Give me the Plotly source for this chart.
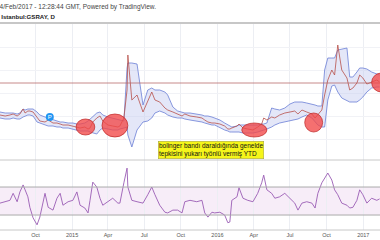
import plotly.graph_objects as go

dates = [
    "2014-07-04", "2014-07-17", "2014-07-29", "2014-08-06", "2014-08-16", "2014-08-23", "2014-08-31", "2014-09-05", "2014-09-12", "2014-09-17",
    "2014-09-25", "2014-10-05", "2014-10-12", "2014-10-25", "2014-11-02", "2014-11-14", "2014-11-24", "2014-12-02", "2014-12-09", "2014-12-22",
    "2015-01-03", "2015-01-13", "2015-01-21", "2015-02-02", "2015-02-10", "2015-02-15", "2015-02-22", "2015-03-04", "2015-03-12", "2015-03-19",
    "2015-04-01", "2015-04-13", "2015-04-26", "2015-05-01", "2015-05-11", "2015-05-19", "2015-05-21", "2015-05-31", "2015-06-13", "2015-06-28",
    "2015-07-10", "2015-07-20", "2015-07-28", "2015-08-09", "2015-08-22", "2015-08-29", "2015-09-11", "2015-09-23", "2015-10-04", "2015-10-11",
    "2015-10-24", "2015-11-10", "2015-11-23", "2015-11-30", "2015-12-08", "2015-12-18", "2015-12-25", "2016-01-07", "2016-01-19", "2016-01-27",
    "2016-02-01", "2016-02-06", "2016-02-19", "2016-02-24", "2016-03-05", "2016-03-17", "2016-03-30", "2016-04-11", "2016-04-21", "2016-04-26",
    "2016-05-04", "2016-05-16", "2016-05-24", "2016-06-05", "2016-06-18", "2016-07-01", "2016-07-13", "2016-07-21", "2016-07-31", "2016-08-12",
    "2016-08-25", "2016-09-02", "2016-09-09", "2016-09-19", "2016-09-26", "2016-10-04", "2016-10-14", "2016-10-21", "2016-10-29", "2016-11-08",
    "2016-11-21", "2016-11-28", "2016-12-06", "2016-12-16", "2016-12-23", "2016-12-31", "2017-01-10", "2017-01-22", "2017-02-04", "2017-02-11",
]

bb_upper = [
    1.76, 1.74, 1.74, 1.74, 1.72, 1.74, 1.82, 1.80, 1.82, 1.82,
    1.82, 1.76, 1.70, 1.66, 1.64, 1.62, 1.58, 1.56, 1.56, 1.54,
    1.54, 1.52, 1.52, 1.54, 1.58, 1.62, 1.68, 1.74, 1.76, 1.70,
    1.66, 1.64, 1.62, 1.60, 1.58, 2.64, 2.74, 2.74, 2.72, 1.90,
    2.20, 2.24, 2.20, 2.20, 2.16, 2.10, 1.86, 1.78, 1.76, 1.74,
    1.74, 1.72, 1.70, 1.68, 1.68, 1.66, 1.64, 1.60, 1.54, 1.50,
    1.48, 1.46, 1.48, 1.50, 1.50, 1.50, 1.50, 1.50, 1.52, 1.52,
    1.54, 1.84, 1.82, 1.80, 1.84, 1.92, 1.96, 1.96, 1.96, 1.94,
    1.92, 1.90, 1.88, 1.88, 2.60, 2.84, 2.84, 2.84, 3.00, 3.02,
    3.04, 2.46, 2.46, 2.56, 2.64, 2.64, 2.62, 2.56, 2.52, 2.50,
]

bb_lower = [
    1.64, 1.62, 1.62, 1.64, 1.62, 1.62, 1.66, 1.68, 1.70, 1.70,
    1.68, 1.56, 1.54, 1.50, 1.48, 1.48, 1.46, 1.46, 1.44, 1.44,
    1.42, 1.40, 1.38, 1.38, 1.38, 1.36, 1.34, 1.32, 1.40, 1.44,
    1.42, 1.40, 1.40, 1.42, 1.44, 1.46, 1.30, 1.06, 1.40, 1.56,
    1.58, 1.64, 1.74, 1.78, 1.74, 1.70, 1.66, 1.64, 1.64, 1.62,
    1.60, 1.58, 1.56, 1.54, 1.52, 1.50, 1.50, 1.44, 1.40, 1.38,
    1.36, 1.36, 1.36, 1.36, 1.34, 1.34, 1.34, 1.36, 1.38, 1.40,
    1.42, 1.46, 1.50, 1.54, 1.56, 1.58, 1.60, 1.62, 1.66, 1.70,
    1.64, 1.56, 1.50, 1.46, 1.46, 2.00, 2.28, 2.30, 2.16, 2.04,
    1.98, 1.96, 1.96, 1.96, 2.00, 2.06, 2.16, 2.24, 2.26, 2.26,
]

price = [
    1.70, 1.68, 1.70, 1.72, 1.68, 1.72, 1.82, 1.74, 1.78, 1.78,
    1.76, 1.64, 1.58, 1.56, 1.60, 1.54, 1.54, 1.52, 1.50, 1.50,
    1.48, 1.46, 1.44, 1.46, 1.42, 1.44, 1.56, 1.64, 1.68, 1.58,
    1.50, 1.48, 1.46, 1.48, 1.64, 2.20, 2.90, 2.00, 2.10, 1.76,
    2.00, 2.16, 2.00, 1.96, 1.84, 1.80, 1.76, 1.72, 1.68, 1.72,
    1.68, 1.66, 1.64, 1.60, 1.56, 1.54, 1.54, 1.52, 1.48, 1.42,
    1.42, 1.44, 1.48, 1.52, 1.44, 1.42, 1.40, 1.46, 1.52, 1.64,
    1.60, 1.66, 1.64, 1.70, 1.74, 1.76, 1.78, 1.72, 1.80, 1.76,
    1.72, 1.64, 1.70, 1.80, 2.10, 2.40, 2.60, 2.50, 3.10, 2.60,
    2.44, 2.20, 2.24, 2.34, 2.50, 2.44, 2.32, 2.36, 2.40, 2.36,
]

rsi = [
    47, 49, 51, 61, 49, 63, 73, 66, 56, 41,
    26, 16, 27, 61, 41, 37, 54, 61, 44, 49,
    51, 63, 44, 40, 33, 51, 77, 70, 54, 44,
    49, 54, 47, 47, 76, 97, 70, 51, 49, 47,
    59, 70, 59, 44, 34, 33, 37, 37, 33, 49,
    51, 49, 51, 33, 27, 34, 33, 34, 30, 19,
    20, 51, 56, 69, 54, 51, 49, 61, 76, 87,
    66, 61, 54, 56, 61, 54, 47, 37, 47, 49,
    47, 40, 61, 76, 83, 90, 80, 66, 59, 47,
    44, 40, 41, 51, 66, 59, 47, 54, 51, 53,
]

tick_vals = ["2014-07-01", "2014-10-01", "2015-01-01", "2015-04-01", "2015-07-01", "2015-10-01",
             "2016-01-01", "2016-04-01", "2016-07-01", "2016-10-01", "2017-01-01"]
tick_text = ["Jul", "Oct", "2015", "Apr", "Jul", "Oct", "2016", "Apr", "Jul", "Oct", "2017"]

# highlighted squeeze zones: (start, end, low, high)
squeeze_start = ["2015-01-11", "2015-03-17", "2016-03-02", "2016-08-07", "2017-01-22"]
squeeze_end = ["2015-02-27", "2015-05-21", "2016-05-04", "2016-09-21", "2017-03-12"]
squeeze_low = [1.30, 1.26, 1.26, 1.36, 2.16]
squeeze_high = [1.62, 1.72, 1.54, 1.74, 2.54]

level_line = 2.34
rsi_upper, rsi_lower = 70, 30
marker_date, marker_price = "2014-11-06", 1.66

W, H = 380, 240
FONT = "Liberation Sans"

fig = go.Figure()
fig.add_trace(go.Scatter(x=dates, y=bb_lower, mode="lines",
                         line=dict(color="#6b7fd6", width=0.8), xaxis="x", yaxis="y", showlegend=False))
fig.add_trace(go.Scatter(x=dates, y=bb_upper, mode="lines", fill="tonexty",
                         fillcolor="rgba(196,202,240,0.45)",
                         line=dict(color="#6b7fd6", width=0.8), xaxis="x", yaxis="y", showlegend=False))
fig.add_trace(go.Scatter(x=dates, y=price, mode="lines",
                         line=dict(color="#b8504a", width=0.8), xaxis="x", yaxis="y", showlegend=False))
fig.add_trace(go.Scatter(x=dates, y=rsi, mode="lines",
                         line=dict(color="#9a5cb4", width=0.9), xaxis="x2", yaxis="y2", showlegend=False))
fig.add_trace(go.Scatter(x=[marker_date], y=[marker_price], mode="markers+text", text=["P"],
                         textfont=dict(color="white", size=6, family=FONT),
                         textposition="middle center",
                         marker=dict(color="#2196f3", size=8), xaxis="x", yaxis="y", showlegend=False))

shapes = []
shapes.append(dict(type="line", xref="paper", yref="y", x0=0, x1=1, y0=level_line, y1=level_line,
                   line=dict(color="rgba(180,100,100,0.75)", width=1)))
for s, e, lo, hi in zip(squeeze_start, squeeze_end, squeeze_low, squeeze_high):
    shapes.append(dict(type="circle", xref="x", yref="y", x0=s, x1=e, y0=lo, y1=hi,
                       fillcolor="rgba(242,72,72,0.78)", line=dict(color="rgba(190,40,40,0.9)", width=0.8),
                       layer="above"))
shapes.append(dict(type="rect", xref="paper", yref="y2", x0=0, x1=1, y0=rsi_lower, y1=rsi_upper,
                   fillcolor="rgba(186,104,200,0.12)", line=dict(width=0), layer="below"))
for lv in (rsi_lower, rsi_upper):
    shapes.append(dict(type="line", xref="paper", yref="y2", x0=0, x1=1, y0=lv, y1=lv,
                       line=dict(color="#aaaaaa", width=1)))
shapes.append(dict(type="line", xref="paper", yref="paper", x0=0, x1=1, y0=1 - 160 / H, y1=1 - 160 / H,
                   line=dict(color="#c8c8c8", width=1)))
shapes.append(dict(type="line", xref="paper", yref="paper", x0=0, x1=1, y0=1 - 230 / H, y1=1 - 230 / H,
                   line=dict(color="#c8c8c8", width=1)))
shapes.append(dict(type="line", xref="paper", yref="paper", x0=0, x1=1, y0=1 - 23 / H, y1=1 - 23 / H,
                   line=dict(color="#b4b4b4", width=1.5)))

annotations = [
    dict(xref="paper", yref="paper", x=-6 / W, y=1 - 7 / H, xanchor="left", yanchor="middle",
         text="14/Feb/2017 - 12:28:44 GMT, Powered by TradingView.", showarrow=False,
         font=dict(family=FONT, size=6.5, color="#444")),
    dict(xref="paper", yref="paper", x=57 / W, y=1 - 17 / H, xanchor="right", yanchor="middle",
         text="<b>Galatasaray Sportif Borsa, Istanbul:GSRAY, D</b>", showarrow=False,
         font=dict(family=FONT, size=6.1, color="#222")),
    dict(xref="paper", yref="paper", x=158 / W, y=1 - 150 / H, xanchor="left", yanchor="middle",
         text="bolinger bandı daraldığında genelde<br>tepkisini yukarı työnlü vermiş YTD",
         showarrow=False, align="left", bgcolor="#f5f51a", bordercolor="#9a9a40", borderwidth=0.5,
         borderpad=0.5, font=dict(family=FONT, size=6.5, color="#111")),
]

xcommon = dict(type="date", range=["2014-07-04", "2017-02-12"], tickvals=tick_vals, ticktext=tick_text,
               showgrid=True, gridcolor="#eceef3", gridwidth=1, zeroline=False, showline=False)

fig.update_layout(
    width=W, height=H, margin=dict(l=0, r=0, t=0, b=0),
    paper_bgcolor="white", plot_bgcolor="white",
    showlegend=False,
    xaxis=dict(**xcommon, domain=[0, 1], anchor="y", showticklabels=False, ticks=""),
    xaxis2=dict(**xcommon, domain=[0, 1], anchor="y2", matches="x", showticklabels=True, ticks="",
                tickfont=dict(family=FONT, size=5.5, color="#555")),
    yaxis=dict(domain=[1 - 160 / H, 1 - 24 / H], range=[0.80, 3.52], showticklabels=False,
               showgrid=True, gridcolor="#f1f2f6", tick0=0.30, dtick=0.46, zeroline=False, ticks=""),
    yaxis2=dict(domain=[1 - 230 / H, 1 - 160 / H], range=[8.6, 108.6], showticklabels=False,
                showgrid=False, zeroline=False, ticks=""),
    shapes=shapes, annotations=annotations,
)

fig.write_html("out.html")
